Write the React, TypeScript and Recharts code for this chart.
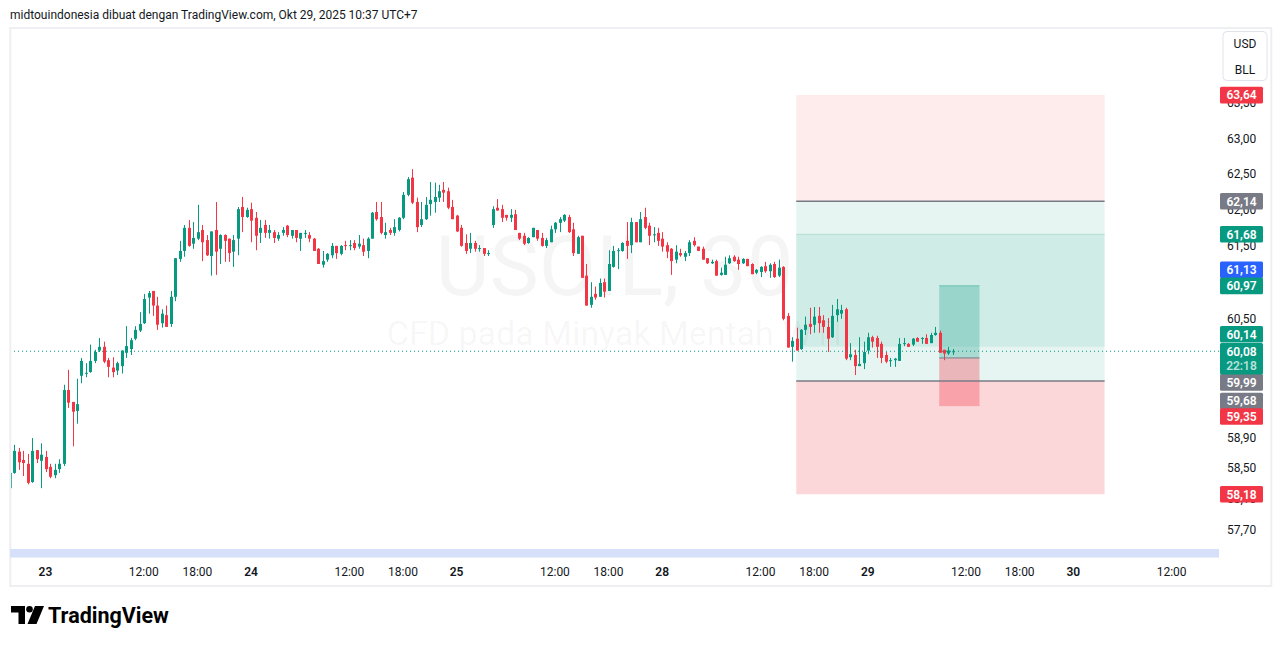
import React from 'react';
import { ComposedChart, Bar, XAxis, YAxis, ReferenceArea, ReferenceLine } from 'recharts';

// USOIL 30m candles (Oct 22 evening -> Oct 29 morning)
const opens = [
  58.26, 58.46, 58.74, 58.63, 58.58, 58.34, 58.76, 58.62, 58.67, 58.54,
  58.43, 58.51, 58.58, 59.56, 59.40, 59.28, 59.75, 59.78, 59.80, 59.95,
  60.09, 60.14, 59.96, 59.86, 59.82, 59.88, 60.06, 60.11, 60.25, 60.36,
  60.46, 60.81, 60.90, 60.70, 60.46, 60.57, 60.45, 60.82, 61.34, 61.45,
  61.77, 61.55, 61.62, 61.74, 61.60, 61.38, 61.74, 61.48, 61.67, 61.62,
  61.44, 61.62, 62.06, 61.92, 62.03, 61.91, 61.70, 61.81, 61.70, 61.71,
  61.62, 61.70, 61.80, 61.66, 61.74, 61.62, 61.69, 61.67, 61.62, 61.48,
  61.26, 61.33, 61.39, 61.52, 61.41, 61.53, 61.52, 61.56, 61.51, 61.53,
  61.45, 61.62, 61.99, 61.92, 61.67, 61.74, 61.70, 61.74, 61.91, 62.23,
  62.47, 62.13, 61.81, 61.89, 62.10, 62.13, 62.19, 62.30, 62.28, 62.06,
  61.94, 61.77, 61.56, 61.48, 61.56, 61.48, 61.49, 61.41, 61.81, 62.05,
  62.03, 61.95, 61.91, 61.96, 61.70, 61.66, 61.56, 61.64, 61.74, 61.63,
  61.52, 61.57, 61.75, 61.84, 61.87, 61.92, 61.75, 61.41, 61.66, 61.11,
  60.71, 60.86, 60.82, 61.02, 60.90, 61.23, 61.45, 61.45, 61.59, 61.53,
  61.85, 61.57, 61.92, 61.80, 61.67, 61.70, 61.62, 61.53, 61.48, 61.33,
  61.42, 61.37, 61.42, 61.59, 61.51, 61.48, 61.35, 61.28, 61.31, 61.12,
  61.12, 61.28, 61.37, 61.33, 61.28, 61.34, 61.27, 61.15, 61.16, 61.24,
  61.17, 61.27, 61.11, 61.23, 60.56, 60.14, 60.25, 60.11, 60.37, 60.45,
  60.44, 60.56, 60.50, 60.41, 60.27, 60.57, 60.59, 60.65, 60.00, 60.03,
  59.88, 59.92, 60.09, 60.27, 60.26, 60.18, 60.03, 59.95, 59.96, 59.95,
  60.18, 60.18, 60.17, 60.26, 60.25, 60.26, 60.19, 60.30, 60.33, 60.10,
  60.05, 60.07,
];
const highs = [
  58.59, 58.83, 58.79, 58.75, 58.71, 58.92, 58.76, 58.85, 58.75, 58.58,
  58.58, 58.64, 59.63, 59.83, 59.40, 59.71, 59.99, 59.92, 60.17, 60.10,
  60.26, 60.21, 59.99, 60.00, 59.94, 60.09, 60.42, 60.26, 60.42, 60.61,
  60.86, 60.90, 60.90, 60.82, 60.65, 60.70, 60.90, 61.35, 61.59, 61.81,
  61.88, 61.85, 62.09, 61.81, 61.67, 61.72, 62.13, 61.68, 61.68, 61.62,
  61.67, 62.06, 62.20, 62.05, 62.12, 61.99, 61.88, 61.88, 61.81, 61.74,
  61.71, 61.78, 61.81, 61.74, 61.74, 61.70, 61.74, 61.71, 61.63, 61.49,
  61.45, 61.42, 61.56, 61.52, 61.53, 61.59, 61.60, 61.60, 61.67, 61.62,
  61.64, 61.99, 62.13, 62.13, 61.84, 61.77, 61.89, 61.92, 62.27, 62.48,
  62.59, 62.19, 62.13, 62.20, 62.41, 62.40, 62.37, 62.41, 62.33, 62.16,
  61.95, 61.81, 61.68, 61.70, 61.59, 61.53, 61.49, 61.46, 62.07, 62.17,
  62.09, 61.95, 62.03, 62.02, 61.70, 61.70, 61.64, 61.77, 61.74, 61.70,
  61.63, 61.80, 61.85, 61.92, 61.96, 61.95, 61.84, 61.66, 61.66, 61.27,
  61.02, 60.96, 61.07, 61.07, 61.46, 61.52, 61.49, 61.57, 61.85, 61.91,
  61.85, 61.99, 62.05, 61.84, 61.78, 61.77, 61.71, 61.57, 61.49, 61.53,
  61.48, 61.45, 61.60, 61.64, 61.51, 61.51, 61.35, 61.33, 61.33, 61.22,
  61.37, 61.39, 61.39, 61.37, 61.35, 61.34, 61.28, 61.20, 61.24, 61.30,
  61.28, 61.30, 61.33, 61.24, 60.60, 60.27, 60.40, 60.38, 60.55, 60.67,
  60.68, 60.68, 60.57, 60.53, 60.71, 60.79, 60.71, 60.67, 60.19, 60.10,
  60.27, 60.21, 60.33, 60.29, 60.29, 60.21, 60.07, 59.99, 59.99, 60.26,
  60.26, 60.19, 60.26, 60.27, 60.27, 60.31, 60.33, 60.41, 60.36, 60.10,
  60.14, 60.11,
];
const lows = [
  58.17, 58.45, 58.50, 58.42, 58.31, 58.33, 58.59, 58.26, 58.47, 58.39,
  58.39, 58.46, 58.55, 59.32, 58.81, 59.11, 59.65, 59.73, 59.79, 59.92,
  60.07, 59.92, 59.73, 59.73, 59.76, 59.78, 59.99, 60.03, 60.23, 60.34,
  60.45, 60.59, 60.56, 60.37, 60.40, 60.41, 60.41, 60.76, 61.30, 61.37,
  61.51, 61.48, 61.60, 61.31, 61.38, 61.11, 61.12, 61.27, 61.30, 61.30,
  61.23, 61.39, 61.71, 61.91, 61.57, 61.46, 61.56, 61.63, 61.62, 61.56,
  61.59, 61.66, 61.64, 61.62, 61.57, 61.45, 61.63, 61.57, 61.45, 61.27,
  61.22, 61.30, 61.35, 61.34, 61.39, 61.46, 61.46, 61.46, 61.48, 61.38,
  61.35, 61.62, 61.87, 61.68, 61.62, 61.67, 61.66, 61.72, 61.89, 62.21,
  62.10, 61.71, 61.78, 61.88, 61.94, 61.98, 62.13, 62.13, 62.03, 61.89,
  61.71, 61.51, 61.41, 61.42, 61.44, 61.44, 61.38, 61.38, 61.77, 62.01,
  61.85, 61.87, 61.85, 61.74, 61.60, 61.53, 61.55, 61.64, 61.59, 61.51,
  61.49, 61.57, 61.70, 61.71, 61.85, 61.70, 61.38, 61.41, 61.08, 60.70,
  60.67, 60.78, 60.82, 60.81, 60.90, 61.22, 61.20, 61.44, 61.34, 61.42,
  61.57, 61.57, 61.75, 61.53, 61.57, 61.52, 61.44, 61.35, 61.12, 61.28,
  61.37, 61.31, 61.38, 61.51, 61.45, 61.33, 61.27, 61.27, 61.11, 61.11,
  61.12, 61.27, 61.30, 61.19, 61.27, 61.24, 61.13, 61.13, 61.09, 61.15,
  61.08, 61.08, 61.09, 60.50, 60.13, 59.94, 60.09, 60.10, 60.30, 60.31,
  60.33, 60.33, 60.33, 60.07, 60.26, 60.48, 60.52, 59.96, 59.96, 59.76,
  59.88, 59.84, 60.04, 60.13, 59.99, 59.92, 59.92, 59.87, 59.87, 59.95,
  60.15, 60.14, 60.15, 60.21, 60.18, 60.18, 60.19, 60.29, 60.06, 59.96,
  60.03, 60.03,
];
const closes = [
  58.46, 58.75, 58.60, 58.59, 58.33, 58.75, 58.64, 58.70, 58.51, 58.41,
  58.50, 58.58, 59.56, 59.39, 59.27, 59.37, 59.95, 59.79, 59.95, 60.07,
  60.14, 59.94, 59.87, 59.80, 59.92, 60.09, 60.15, 60.23, 60.37, 60.45,
  60.79, 60.87, 60.70, 60.44, 60.59, 60.41, 60.82, 61.35, 61.45, 61.77,
  61.52, 61.63, 61.71, 61.57, 61.39, 61.72, 61.44, 61.67, 61.59, 61.42,
  61.60, 62.03, 61.92, 62.02, 61.87, 61.66, 61.77, 61.70, 61.74, 61.63,
  61.67, 61.74, 61.67, 61.74, 61.63, 61.70, 61.70, 61.62, 61.45, 61.27,
  61.31, 61.41, 61.52, 61.42, 61.52, 61.52, 61.53, 61.49, 61.55, 61.44,
  61.62, 61.98, 61.89, 61.70, 61.71, 61.70, 61.78, 61.91, 62.23, 62.45,
  62.12, 61.78, 61.89, 62.09, 62.16, 62.20, 62.28, 62.26, 62.05, 61.89,
  61.72, 61.52, 61.45, 61.56, 61.48, 61.49, 61.41, 61.42, 62.03, 62.01,
  61.91, 61.91, 61.95, 61.74, 61.62, 61.55, 61.63, 61.77, 61.62, 61.52,
  61.60, 61.75, 61.84, 61.89, 61.95, 61.71, 61.42, 61.64, 61.08, 60.70,
  60.82, 60.81, 61.01, 60.89, 61.27, 61.45, 61.46, 61.56, 61.52, 61.85,
  61.57, 61.89, 61.77, 61.66, 61.68, 61.59, 61.51, 61.44, 61.31, 61.44,
  61.39, 61.42, 61.57, 61.53, 61.45, 61.33, 61.28, 61.30, 61.11, 61.15,
  61.26, 61.35, 61.31, 61.27, 61.34, 61.24, 61.13, 61.19, 61.23, 61.17,
  61.26, 61.09, 61.22, 60.52, 60.13, 60.22, 60.09, 60.37, 60.44, 60.41,
  60.55, 60.46, 60.41, 60.25, 60.56, 60.65, 60.64, 59.98, 60.04, 59.88,
  59.91, 60.07, 60.27, 60.21, 60.14, 59.99, 59.94, 59.96, 59.98, 60.18,
  60.19, 60.14, 60.25, 60.21, 60.26, 60.18, 60.30, 60.33, 60.06, 60.05,
  60.09, 60.08,
];

// time axis (bar index of each label)
const timeTicks = [8, 30, 42, 54, 76, 88, 100, 122, 134, 146, 168, 180, 192, 214, 226, 238, 260];
const timeLabels = ['23', '12:00', '18:00', '24', '12:00', '18:00', '25', '12:00', '18:00', '28', '12:00', '18:00', '29', '12:00', '18:00', '30', '12:00'];
const priceTicks = [63.5, 63, 62.5, 62, 61.5, 60.5, 58.9, 58.5, 58.1, 57.7];

// position tools drawn on the chart
const bigFrom = 176;
const bigTo = 245;
const bigLevels = [63.64, 62.14, 61.68, 60.14, 59.68, 58.18];
const smallFrom = 208;
const smallTo = 217;
const smallLevels = [60.97, 59.99, 59.35];

// price tags on the right scale
const lastPrice = 60.08;
const countdown = '22:18';
const tagPrices = [63.64, 62.14, 61.68, 61.13, 60.97, 60.14, 59.99, 59.68, 59.35, 58.18];
const tagColors = ['#f23645', '#787b86', '#089981', '#2962ff', '#089981', '#089981', '#787b86', '#787b86', '#f23645', '#f23645'];
const tagNudge = [0, 0, 0, -4.5, 0, -12.6, 24.4, 20, 10.8, 0];

const UP = '#089981';
const DOWN = '#f23645';
const FONT = 'Roboto, "Liberation Sans", sans-serif';
const TEXT = '#131722';
const X_DOMAIN: [number, number] = [0.06, 270.6];
const Y_DOMAIN: [number, number] = [57.469, 64.607];

const data = opens.map((o, i) => ({
  i,
  o,
  h: highs[i],
  l: lows[i],
  c: closes[i],
  range: [lows[i], highs[i]],
}));

const fmt = (v: number) => v.toFixed(2).replace('.', ',');

const Candle = (props: any) => {
  const { x, y, width, height, payload } = props;
  if (!payload || x == null || y == null) return null;
  const { o, h, l, c } = payload;
  const top = height >= 0 ? y : y + height;
  const span = Math.abs(height);
  const lh = Math.log(h);
  const lspan = lh - Math.log(l);
  // log scale -> interpolate in log space between high and low
  const toY = (p: number) => (lspan === 0 ? top : top + ((lh - Math.log(p)) / lspan) * span);
  const color = c >= o ? UP : DOWN;
  const yo = toY(o);
  const yc = toY(c);
  const bodyTop = Math.min(yo, yc);
  const bodyH = Math.max(1, Math.abs(yo - yc));
  const cx = Math.round(x + width / 2);
  return (
    <g>
      <line x1={cx + 0.5} x2={cx + 0.5} y1={top} y2={top + span} stroke={color} strokeWidth={1} />
      <rect x={cx - 1} y={bodyTop} width={3} height={bodyH} fill={color} />
    </g>
  );
};

const XTick = (props: any) => {
  const { x, y, payload } = props;
  const k = timeTicks.indexOf(payload.value);
  const label = timeLabels[k] ?? '';
  const isDay = label.indexOf(':') < 0;
  return (
    <text x={x} y={y + 19} textAnchor="middle" fontSize={12} fontFamily={FONT} fill={TEXT} fontWeight={isDay ? 600 : 400}>
      {label}
    </text>
  );
};

const YTick = (props: any) => {
  const { x, y, payload } = props;
  return (
    <text x={x} y={y + 2.5} textAnchor="start" fontSize={12} fontFamily={FONT} fill={TEXT}>
      {fmt(payload.value)}
    </text>
  );
};

const makeTag = (text: string, color: string, nudge: number, sub?: string) => (props: any) => {
  const vb = props.viewBox;
  if (!vb) return null;
  const left = vb.x + vb.width + 1;
  const cy = vb.y + nudge;
  const h = sub ? 31.5 : 16.6;
  return (
    <g>
      <rect x={left} y={cy - 8.3} width={43} height={h} rx={1.5} fill={color} />
      <text x={left + 21.5} y={cy + 4.3} textAnchor="middle" fontSize={12} fontWeight={600} fontFamily={FONT} fill="#ffffff">
        {text}
      </text>
      {sub && (
        <text x={left + 21.5} y={cy + 18.6} textAnchor="middle" fontSize={12} fontWeight={600} fontFamily={FONT} fill="rgba(255,255,255,0.72)">
          {sub}
        </text>
      )}
    </g>
  );
};

const App: React.FC = () => {
  return (
    <div style={{ position: 'absolute', left: 0, top: 0, width: 1281, height: 646, background: '#ffffff', overflow: 'hidden' }}>
      {/* watermark, behind everything */}
      <svg width={1281} height={646} style={{ position: 'absolute', left: 0, top: 0 }}>
        <text x={614.5} y={295} textAnchor="middle" fontSize={83} fontFamily={FONT} fill="rgba(19,23,34,0.045)">
          USOIL, 30
        </text>
        <text x={614.5} y={345} textAnchor="middle" fontSize={34} fontFamily={FONT} fill="rgba(19,23,34,0.045)">
          CFD pada Minyak Mentah WTI
        </text>
      </svg>

      {/* main pane: candles, drawings, axes */}
      <div style={{ position: 'absolute', left: 0, top: 0 }}>
        <ComposedChart width={1281} height={646} data={data} margin={{ top: 28, right: 11, left: 10, bottom: 61 }}>
          <XAxis
            type="number"
            dataKey="i"
            domain={X_DOMAIN}
            allowDataOverflow
            ticks={timeTicks}
            interval={0}
            tick={<XTick />}
            tickLine={false}
            axisLine={false}
            height={36}
          />
          <YAxis
            orientation="right"
            type="number"
            scale="log"
            domain={Y_DOMAIN}
            allowDataOverflow
            ticks={priceTicks}
            interval={0}
            tick={<YTick />}
            tickLine={false}
            axisLine={false}
            width={51}
          />
          <Bar dataKey="range" barSize={3} shape={(p: any) => <Candle {...p} />} isAnimationActive={false} />

          {/* big position tool */}
          <ReferenceArea x1={bigFrom} x2={bigTo} y1={bigLevels[0]} y2={bigLevels[1]} fill={DOWN} fillOpacity={0.1} stroke="none" />
          <ReferenceArea x1={bigFrom} x2={bigTo} y1={bigLevels[1]} y2={bigLevels[4]} fill={UP} fillOpacity={0.1} stroke="none" />
          <ReferenceArea x1={bigFrom} x2={bigTo} y1={bigLevels[2]} y2={bigLevels[3]} fill={UP} fillOpacity={0.1} stroke="none" />
          <ReferenceArea x1={bigFrom} x2={bigTo} y1={bigLevels[4]} y2={bigLevels[5]} fill={DOWN} fillOpacity={0.2} stroke="none" />
          <ReferenceLine segment={[{ x: bigFrom, y: bigLevels[1] }, { x: bigTo, y: bigLevels[1] }]} stroke="#787b86" strokeWidth={1.5} />
          <ReferenceLine segment={[{ x: bigFrom, y: bigLevels[2] }, { x: bigTo, y: bigLevels[2] }]} stroke="#b3ded5" strokeWidth={1} />
          <ReferenceLine segment={[{ x: bigFrom, y: bigLevels[4] }, { x: bigTo, y: bigLevels[4] }]} stroke="#787b86" strokeWidth={1.5} />

          {/* small position tool */}
          <ReferenceArea x1={smallFrom} x2={smallTo} y1={smallLevels[0]} y2={smallLevels[1]} fill={UP} fillOpacity={0.27} stroke="none" />
          <ReferenceArea x1={smallFrom} x2={smallTo} y1={smallLevels[1]} y2={smallLevels[2]} fill={DOWN} fillOpacity={0.33} stroke="none" />
          <ReferenceLine segment={[{ x: smallFrom, y: smallLevels[0] }, { x: smallTo, y: smallLevels[0] }]} stroke="#6cc3b1" strokeWidth={1} />
          <ReferenceLine segment={[{ x: smallFrom, y: smallLevels[1] }, { x: smallTo, y: smallLevels[1] }]} stroke="#787b86" strokeWidth={1} />
          <ReferenceLine segment={[{ x: smallFrom, y: smallLevels[2] }, { x: smallTo, y: smallLevels[2] }]} stroke="#f7a1a6" strokeWidth={1} />

          {/* last price line */}
          <ReferenceLine y={lastPrice} stroke={UP} strokeWidth={1} strokeDasharray="1 3" />
        </ComposedChart>
      </div>

      {/* same scales again, on top, only for the price tags so they cover the axis labels */}
      <div style={{ position: 'absolute', left: 0, top: 0 }}>
        <ComposedChart width={1281} height={646} data={data} margin={{ top: 28, right: 62, left: 10, bottom: 97 }}>
          <XAxis hide type="number" dataKey="i" domain={X_DOMAIN} allowDataOverflow />
          <YAxis hide type="number" scale="log" domain={Y_DOMAIN} allowDataOverflow />
          {tagPrices.map((p, k) => (
            <ReferenceLine key={k} y={p} stroke="none" label={makeTag(fmt(p), tagColors[k], tagNudge[k])} />
          ))}
          <ReferenceLine y={lastPrice} stroke="none" label={makeTag(fmt(lastPrice), UP, 0, countdown)} />
        </ComposedChart>
      </div>

      {/* frame, header, time-scale highlight, logo */}
      <svg width={1281} height={646} style={{ position: 'absolute', left: 0, top: 0, pointerEvents: 'none' }}>
        <rect x={10.3} y={28} width={1261} height={558} fill="none" stroke="#eeeff2" strokeWidth={2} />
        <rect x={10} y={549} width={1209} height={8.5} fill="#d6e0fa" />
        <text x={10} y={19} fontSize={12} fontFamily={FONT} fill={TEXT}>
          midtouindonesia dibuat dengan TradingView.com, Okt 29, 2025 10:37 UTC+7
        </text>
        <rect x={1223} y={31.5} width={44} height={49} rx={4} fill="#ffffff" stroke="#e0e3eb" />
        <text x={1245} y={48} textAnchor="middle" fontSize={12} fontFamily={FONT} fill={TEXT}>USD</text>
        <text x={1245} y={74} textAnchor="middle" fontSize={12} fontFamily={FONT} fill={TEXT}>BLL</text>
        <g fill="#000000">
          <path d="M11 606 H25 V624 H18.5 V612.5 H11 Z" />
          <circle cx={29.5} cy={609.3} r={3.3} />
          <path d="M35 606 H44 L36.5 624 H27.5 Z" />
        </g>
        <text x={48} y={623} fontSize={21.5} fontWeight={700} fontFamily={FONT} fill="#000000">
          TradingView
        </text>
      </svg>
    </div>
  );
};

export default App;
